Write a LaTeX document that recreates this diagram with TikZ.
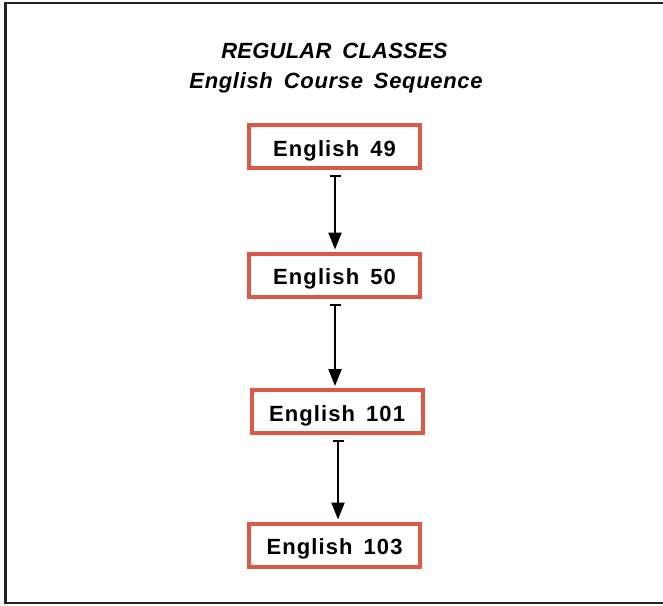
\documentclass[tikz,border=0pt]{standalone}
\usepackage{fontspec}
\setmainfont{Liberation Sans}
\newfontfamily\coursefam[LetterSpace=5]{Liberation Sans}
\newfontfamily\titlefamA[LetterSpace=1]{Liberation Sans}
\newfontfamily\titlefamB[LetterSpace=3]{Liberation Sans}
\newcommand\coursefont{\fontsize{22}{26}\coursefam\bfseries\spaceskip=0.5em\relax}
\newcommand\titlefontA{\fontsize{22}{26}\titlefamA\bfseries\itshape\spaceskip=0.5em\relax}
\newcommand\titlefontB{\fontsize{22}{26}\titlefamB\bfseries\itshape\spaceskip=0.5em\relax}
\usetikzlibrary{arrows.meta}
\definecolor{boxred}{RGB}{221,89,70}
\definecolor{framegray}{RGB}{34,34,34}
\begin{document}
\begin{tikzpicture}[x=1pt,y=-1pt,
  course/.style={draw=boxred, line width=4pt, fill=white, minimum width=171pt, minimum height=43pt,
    inner sep=0pt, text height=20pt, text depth=1pt, font=\coursefont},
  titletext/.style={anchor=base, inner sep=0pt},
  link/.style={line width=2.2pt, {Bar[width=11pt,line width=2pt]}-{Triangle[width=13pt,length=17pt]},
    shorten <=5pt, shorten >=2pt}]
\useasboundingbox (0,0) rectangle (663,605);
\draw[framegray, line width=2.5pt] (663,3) -- (5.5,3) -- (5.5,603) -- (663,603);
\node[titletext, font=\titlefontA] (t1) at (334.5,58) {REGULAR CLASSES};
\node[titletext, font=\titlefontB] (t2) at (336,88) {English Course Sequence};
\node[course] (b1) at (334.5,146.5) {English 49};
\node[course] (b2) at (334.5,275) {English 50};
\node[course] (b3) at (337,411.5) {English 101};
\node[course] (b4) at (334.5,545) {English 103};
\draw[link] ([xshift=0.5pt]b1.south) -- ([xshift=0.5pt]b2.north);
\draw[link] ([xshift=0.5pt]b2.south) -- ([xshift=0.5pt]b2.south |- b3.north);
\draw[link] ([xshift=1pt]b3.south) -- ([xshift=1pt]b3.south |- b4.north);
\end{tikzpicture}
\end{document}
